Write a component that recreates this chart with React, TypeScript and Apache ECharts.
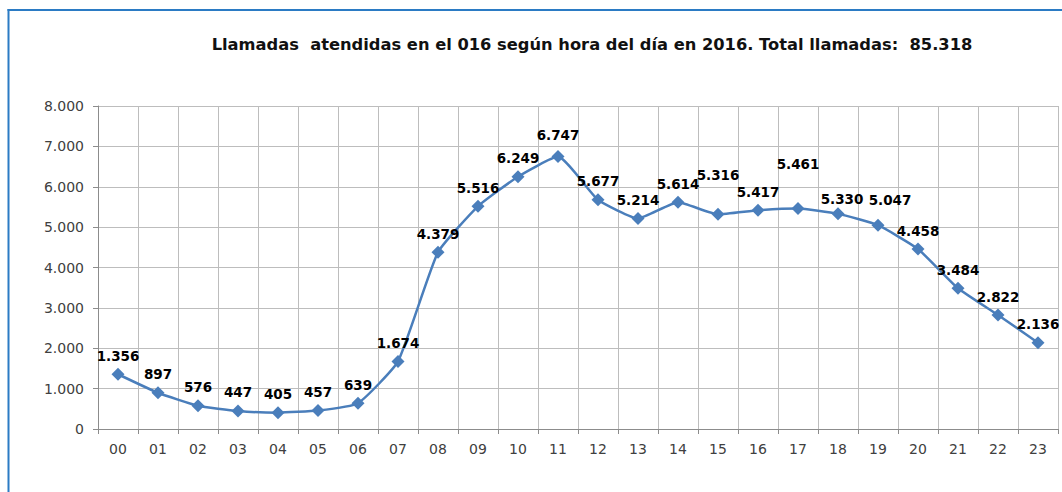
import React, { useEffect, useRef } from "react";
import * as echarts from "echarts";

const hours = ["00","01","02","03","04","05","06","07","08","09","10","11","12","13","14","15","16","17","18","19","20","21","22","23"];
const calls = [1356, 897, 576, 447, 405, 457, 639, 1674, 4379, 5516, 6249, 6747, 5677, 5214, 5614, 5316, 5417, 5461, 5330, 5047, 4458, 3484, 2822, 2136];
const titleText = "Llamadas  atendidas en el 016 según hora del día en 2016. Total llamadas:  85.318";
// manual label nudges (Excel-style moved labels), keyed by index
const labelNudges: Record<number, [number, number]> = {
  11: [0, -3],
  15: [0, -21],
  17: [0, -26],
  18: [4, 4],
  19: [12, -7],
};

const fmt = (v: number) => String(v).replace(/\B(?=(\d{3})+(?!\d))/g, ".");

export default function App() {
  const ref = useRef<HTMLDivElement>(null);
  useEffect(() => {
    const chart = echarts.init(ref.current!, undefined, { renderer: "svg" });
    chart.setOption({
      animation: false,
      backgroundColor: "#ffffff",
      title: {
        text: titleText,
        left: 587,
        textAlign: "center",
        top: 31,
        textStyle: {
          fontFamily: "DejaVu Sans",
          fontWeight: "bold",
          fontSize: 16.3,
          color: "#111111",
        },
      },
      graphic: [
        { type: "line", shape: { x1: 8.5, y1: 9, x2: 8.5, y2: 492 }, style: { stroke: "#2B7BC4", lineWidth: 2 } },
        { type: "line", shape: { x1: 7.5, y1: 10, x2: 1062, y2: 10 }, style: { stroke: "#2B7BC4", lineWidth: 2 } },
      ],
      grid: { left: 98, right: 4, top: 106, bottom: 63, containLabel: false },
      xAxis: {
        type: "category",
        data: hours,
        boundaryGap: true,
        axisLine: { show: true, lineStyle: { color: "#8C8C8C", width: 1 } },
        axisTick: { show: true, length: 5, lineStyle: { color: "#8C8C8C" } },
        splitLine: { show: true, lineStyle: { color: "#BDBDBD", width: 1 } },
        axisLabel: { margin: 13, fontFamily: "DejaVu Sans", fontSize: 14, color: "#404040" },
      },
      yAxis: {
        type: "value",
        min: 0,
        max: 8000,
        interval: 1000,
        axisLine: { show: true, lineStyle: { color: "#8C8C8C", width: 1 } },
        axisTick: { show: true, length: 5, inside: false, lineStyle: { color: "#8C8C8C" } },
        splitLine: { show: true, lineStyle: { color: "#BDBDBD", width: 1 } },
        axisLabel: {
          margin: 14,
          fontFamily: "DejaVu Sans",
          fontSize: 14,
          color: "#404040",
          formatter: (v: number) => fmt(v),
        },
      },
      series: [
        {
          type: "line",
          data: calls.map((v, i) =>
            labelNudges[i] ? { value: v, label: { offset: labelNudges[i] } } : v
          ),
          smooth: 0.15,
          symbol: "diamond",
          symbolSize: 13,
          lineStyle: { color: "#4A7EBB", width: 2.5 },
          itemStyle: { color: "#4A7EBB" },
          label: {
            show: true,
            position: "top",
            distance: 5,
            fontFamily: "DejaVu Sans",
            fontWeight: "bold",
            fontSize: 13.5,
            color: "#000000",
            formatter: (p: any) => fmt(p.value),
          },
        },
      ],
    });
    return () => chart.dispose();
  }, []);
  return (
    <div style={{ position: "absolute", left: 0, top: 0, width: 1062, height: 492, overflow: "hidden" }}>
      <div ref={ref} style={{ width: 1062, height: 492 }} />
    </div>
  );
}
